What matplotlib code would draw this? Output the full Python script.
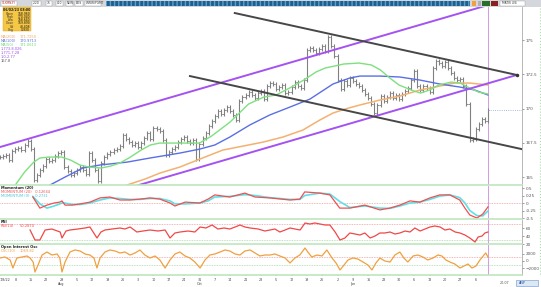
import matplotlib.pyplot as plt
import numpy as np
from matplotlib.patches import Rectangle
from matplotlib.lines import Line2D

W, H = 541, 287

# closing prices, one per bar
closes = [166.46, 166.53, 166.60, 166.24, 166.90, 167.05, 167.12, 166.97, 167.34, 167.63,
          167.05, 164.78, 165.14, 165.51, 165.80, 166.31, 166.17, 166.24, 166.53, 166.75,
          166.82, 165.73, 165.44, 165.14, 165.29, 165.51, 165.73, 165.51, 165.22, 166.75,
          166.24, 165.51, 164.71, 166.02, 166.46, 166.68, 166.82, 166.97, 167.05, 167.26,
          168.07, 167.77, 167.55, 167.34, 167.48, 167.19, 167.48, 167.85, 168.21, 167.77,
          168.58, 168.50, 168.36, 167.70, 166.60, 166.82, 167.05, 167.19, 167.55, 167.77,
          167.92, 167.63, 167.48, 167.70, 166.31, 167.41, 167.85, 168.21, 168.72, 169.09,
          169.45, 169.82, 169.60, 169.89, 170.11, 169.82, 169.53, 169.16, 170.55, 170.84,
          170.99, 171.20, 170.99, 170.77, 171.13, 171.28, 170.69, 171.64, 171.86, 171.79,
          171.42, 171.57, 171.72, 171.13, 171.20, 171.57, 171.93, 171.64, 171.50, 172.08,
          174.27, 174.42, 174.27, 174.05, 174.34, 174.56, 174.20, 175.22, 174.56, 173.83,
          172.08, 171.42, 172.01, 171.72, 172.23, 172.01, 171.79, 171.64, 171.35, 171.06,
          170.77, 170.33, 169.67, 170.26, 170.91, 170.55, 170.84, 171.13, 170.77, 170.99,
          170.69, 171.06, 171.28, 171.50, 172.08, 172.74, 171.64, 171.35, 171.64, 171.50,
          171.20, 172.96, 173.47, 173.32, 173.10, 173.39, 172.96, 172.59, 172.23, 172.08,
          172.16, 171.64, 170.33, 167.70, 167.77, 168.50, 168.87, 169.23, 169.09, 169.89]

# moving averages (bar position, value)
ma50_x = [5, 8, 11, 13, 16, 20, 23, 26, 29, 33, 36, 39, 42, 46, 49, 52, 56, 60, 65, 69,
          75, 81, 86, 90, 95, 99, 103, 106, 109, 112, 117, 121, 124, 127, 130, 134, 137,
          140, 143, 147, 150, 153, 156, 159]
ma50 = [164.42, 165.36, 166.09, 166.39, 166.46, 166.46, 166.24, 165.88, 165.73, 165.66,
        165.80, 166.02, 166.39, 166.97, 167.34, 167.48, 167.48, 167.48, 167.48, 168.00,
        169.02, 170.33, 170.84, 170.99, 171.57, 172.08, 172.67, 172.96, 173.10, 173.25,
        173.32, 173.18, 172.81, 172.23, 171.72, 171.35, 171.13, 171.35, 171.72, 171.93,
        171.86, 171.50, 171.20, 171.06]
ma100_x = [16.3, 21.2, 27.0, 32.6, 41.4, 48.9, 58.6, 65.1, 70.0, 74.9, 81.4, 87.9, 94.5,
           101.0, 108.5, 114.0, 117.3, 123.8, 130.3, 136.8, 143.3, 149.8, 154.7, 159]
ma100 = [164.42, 165.00, 165.66, 165.88, 166.09, 166.39, 166.75, 167.04, 167.34, 167.92,
         168.80, 169.53, 170.11, 170.69, 171.79, 172.23, 172.37, 172.37, 172.30, 172.08,
         171.79, 171.57, 171.35, 170.99]
ma200_x = [41.4, 47.2, 52.1, 58.6, 65.1, 72.6, 79.2, 85.7, 92.2, 98.7, 104.2, 108.5,
           112.4, 117.3, 123.8, 130.3, 136.8, 143.3, 148.2, 153.1, 159]
ma200 = [164.42, 164.85, 165.29, 165.73, 166.31, 166.97, 167.26, 167.55, 167.92, 168.43,
         169.16, 169.67, 169.96, 170.26, 170.62, 170.91, 171.35, 171.64, 171.86, 171.86,
         171.72]

# trend lines, two anchors each (bar, price)
chan_up_x = [0, 159]
chan_up = [167.19, 177.55]
chan_dn_x = [45, 168.4]
chan_dn = [164.40, 172.45]
blk_up_x = [76.5, 168.4]
blk_up = [176.97, 172.45]
blk_dn_x = [61.9, 170.0]
blk_dn = [172.37, 167.04]

price_ticks = [165, 167.5, 170, 172.5, 175]

# momentum panel
mom_x = [10.7, 13.0, 15.3, 17.6, 19.5, 20.2, 21.2, 23.5, 26.1, 29.3, 32.6, 35.8, 39.1,
         42.3, 45.6, 48.9, 52.1, 55.4, 57.0, 60.3, 65.1, 67.8, 70.0, 74.9, 79.8, 83.1,
         87.9, 94.5, 97.7, 99.3, 104.2, 107.5, 110.7, 114.0, 118.9, 123.8, 127.0, 130.3,
         133.6, 136.8, 140.1, 143.3, 146.6, 149.8, 151.5, 153.1, 155.4, 157.3, 159]
mom = [0.20, -0.17, -0.07, 0.0, 0.03, 0.07, -0.07, -0.07, -0.03, 0.03, 0.17, 0.20, 0.10,
       0.10, 0.13, 0.17, 0.13, 0.0, -0.10, 0.03, 0.0, 0.13, 0.27, 0.20, 0.33, 0.20, 0.17,
       0.10, 0.13, 0.37, 0.33, 0.27, -0.17, -0.17, -0.07, -0.23, -0.17, -0.07, 0.07, 0.03,
       0.17, 0.27, 0.27, 0.10, -0.17, -0.40, -0.50, -0.37, -0.13]
mom_sig = [0.22, -0.03, -0.17, -0.10, -0.03, 0.0, 0.0, -0.05, -0.05, 0.0, 0.10, 0.17, 0.15,
           0.12, 0.12, 0.15, 0.15, 0.07, -0.03, -0.03, 0.0, 0.07, 0.20, 0.22, 0.28, 0.25,
           0.18, 0.12, 0.12, 0.25, 0.33, 0.30, 0.05, -0.15, -0.10, -0.17, -0.18, -0.10, 0.0,
           0.03, 0.12, 0.23, 0.27, 0.18, 0.0, -0.25, -0.42, -0.43, -0.27]
mom_ticks = [-0.5, -0.25, 0, 0.25, 0.5]
mom_tick_labels = ['-0.5', '-0.25', '0', '0.25', '0.5']

# RSI panel
rsi_x = [9.8, 11.4, 13.0, 14.7, 16.9, 19.6, 20.2, 21.5, 22.8, 25.4,
         27.7, 29.3, 31.6, 32.9, 34.2, 36.5, 39.1, 40.7, 42.4, 44.6,
         46.6, 48.9, 51.5, 53.8, 55.4, 57.0, 58.7, 61.3, 63.5, 65.2,
         67.1, 69.1, 71.0, 73.0, 74.9, 76.6, 78.2, 79.8, 81.5, 84.1,
         86.3, 88.0, 89.6, 91.2, 92.9, 94.5, 96.1, 97.8, 99.4, 101.0,
         102.6, 104.3, 105.9, 107.5, 109.2, 110.8, 112.4, 114.0, 115.7, 117.3,
         118.9, 120.6, 122.2, 123.8, 125.4, 127.1, 128.7, 130.3, 132.0, 133.6,
         135.2, 136.9, 138.5, 140.1, 141.7, 143.4, 145.0, 146.6, 148.3, 149.9,
         151.5, 153.1, 154.8, 155.8, 157.1, 158.0, 159.0]
rsi = [55, 30, 30, 55, 57.5, 50, 35, 52.5, 55, 57.5,
       60, 62.5, 35, 50, 55, 57.5, 60, 57.5, 62.5, 50,
       52.5, 55, 52.5, 55, 35, 47.5, 50, 52.5, 50, 62.5,
       60, 67.5, 57.5, 60, 57.5, 62.5, 67.5, 62.5, 60, 57.5,
       52.5, 55, 57.5, 50, 55, 60, 57.5, 55, 72.5, 70,
       72.5, 70, 67.5, 67.5, 50, 30, 35, 47.5, 45, 42.5,
       47.5, 35, 40, 47.5, 47.5, 50, 45, 47.5, 52.5, 50,
       60, 52.5, 57.5, 62.5, 65, 62.5, 55, 57.5, 50, 47.5,
       42.5, 35, 25, 37.5, 40, 47.5, 50]
rsi_ticks = [20, 40, 60]

# oscillator panel
osc_x = [0, 1.6, 3.3, 4.2, 5.5, 7.2, 8.8, 9.8, 10.8, 11.4,
         12.4, 13.7, 15.3, 16.9, 18.6, 19.5, 20.2, 21.2, 22.8, 24.4,
         26.1, 27.7, 29.3, 30.6, 31.6, 32.6, 34.2, 35.8, 37.5, 39.1,
         40.7, 42.4, 44.0, 45.6, 47.2, 48.9, 50.5, 52.1, 53.8, 55.4,
         57.0, 58.6, 60.3, 61.9, 63.5, 65.2, 66.8, 68.4, 70.0, 71.7,
         73.3, 74.9, 76.6, 78.2, 79.8, 81.5, 83.1, 84.7, 86.3, 88.0,
         89.6, 91.2, 92.9, 94.5, 96.1, 97.7, 99.4, 100.3, 101.6, 103.3,
         104.9, 106.5, 108.2, 109.5, 110.8, 112.1, 113.4, 115.0, 116.6, 118.3,
         119.9, 121.2, 122.5, 123.8, 125.4, 127.1, 128.7, 130.3, 131.6, 132.9,
         134.6, 136.2, 137.8, 139.4, 141.1, 142.7, 144.0, 145.3, 146.6, 148.2,
         149.9, 151.2, 152.5, 153.8, 155.1, 156.4, 157.7, 158.3, 159.0]
osc = [800, 1070, 270, -1870, 800, 1070, 1340, 800, -270, -2940,
       -1070, 1600, 2400, 1600, 1870, 800, -2940, -270, 2400, 2940,
       2670, 1870, 1600, 800, -1870, 800, 2400, 2940, 2670, 2140,
       2400, 1600, 2140, 2940, 1600, 800, 1340, 270, -1870, 270,
       1870, 2400, 1340, 800, -270, -1870, 270, 1600, 1870, 2400,
       2940, 2670, 1870, 1600, 2670, 2940, 2140, 1340, 1600, 1600,
       1870, 1340, 800, -530, 800, 1600, 3470, 2400, 1070, 1600,
       1340, 2940, 800, -530, -2400, -1070, 270, 800, 530, -270,
       -1070, -2400, -530, 800, 0, -270, 1600, 2400, 800, -270,
       1340, 1600, 1070, 270, 800, 1600, 1340, 270, -270, -800,
       -1870, -1340, -800, -1870, -1340, 270, 1600, 2140, 1070]
osc_ticks = [-2000, 0, 2000]

# date axis
xtick_bars = list(range(0, 160, 5))
xtick_labels = ['1/8/22', '8', '15', '22', '29\nAug', '5', '12', '19', '26', '3', '10',
                '17', '24', '31\nOct', '7', '14', '21', '28', '5', '12', '19', '26', '2',
                '9\nJan', '16', '23', '30', '6', '13', '20', '27', '6']

# legend block values
info_rows = [('Open', '168.960'), ('High', '170.040'), ('Low', '168.640'),
             ('Close', '169.890'), ('Vol', '48,408'), ('Chg', '0.930')]
ma_legend = [('MA(200)', '171.7250', '#f5a860'), ('MA(100)', '170.9713', '#5a6ee6'),
             ('MA(50)', '171.0613', '#6fdc6f')]
line_legend = [('1.773-8.026', '#a050f0'), ('1.771-7.28', '#a050f0'),
               ('1.0-2.77', '#a050f0'), ('167.8', '#555555')]

XMAX = 170.1
WICK = 0.12  # visual padding of each price bar
fig = plt.figure(figsize=(W / 100, H / 100), dpi=100)
fig.patch.set_facecolor('white')


def px_axes(x0, y0, x1, y1):
    return fig.add_axes([x0 / W, 1 - y1 / H, (x1 - x0) / W, (y1 - y0) / H])


def ftext(x, y, s, **kw):
    kw.setdefault('va', 'center')
    kw.setdefault('fontsize', 2.6)
    fig.text(x / W, 1 - y / H, s, **kw)


def style(a):
    a.set_xlim(0, XMAX)
    a.set_facecolor('white')
    for s in ['top', 'left']:
        a.spines[s].set_visible(False)
    a.spines['right'].set_color('#9a9a9a')
    a.spines['right'].set_linewidth(0.5)
    a.spines['bottom'].set_color('#bfe6bf')
    a.spines['bottom'].set_linewidth(1.2)
    a.yaxis.tick_right()
    a.tick_params(axis='y', labelsize=3, colors='#555555', length=1.5, width=0.4, pad=1)
    a.tick_params(axis='x', length=0)
    a.set_xticks([])
    a.axvline(159, color='#d49ae8', lw=0.7)


ax = px_axes(0, 7, 522, 185)
ax2 = px_axes(0, 186, 522, 219)
ax3 = px_axes(0, 220, 522, 244)
ax4 = px_axes(0, 245, 522, 275)
for a in (ax, ax2, ax3, ax4):
    style(a)

# main price panel
ax.set_ylim(164.42, 177.41)
ax.set_yticks(price_ticks)
ax.set_yticklabels(['165', '167.5', '170', '172.5', '175'])
xb = np.arange(len(closes))
opens = [closes[0]] + closes[:-1]
lo = np.minimum(opens, closes) - WICK
hi = np.maximum(opens, closes) + WICK
ax.vlines(xb, lo, hi, color='#808080', lw=0.8)
ax.hlines(opens, xb - 0.5, xb, color='#808080', lw=0.6)
ax.hlines(closes, xb, xb + 0.5, color='#808080', lw=0.6)

ax.plot(ma200_x, ma200, color='#f5b070', lw=1.1)
ax.plot(ma100_x, ma100, color='#5a6ee6', lw=1.0)
ax.plot(ma50_x, ma50, color='#7ee07e', lw=1.0)

ax.plot(chan_up_x, chan_up, color='#a452f2', lw=1.4)
ax.plot(chan_dn_x, chan_dn, color='#a452f2', lw=1.4)
ax.plot(blk_up_x, blk_up, color='#474747', lw=1.4)
ax.plot(blk_dn_x, blk_dn, color='#474747', lw=1.4)
ax.plot([blk_up_x[1]], [blk_up[1]], 'o', ms=1.5, color='#333333')
ax.hlines(closes[-1], 159, XMAX, color='#8fa0d0', lw=0.6, linestyles=':')

# momentum
ax2.set_ylim(-0.533, 0.567)
ax2.set_yticks(mom_ticks)
ax2.set_yticklabels(mom_tick_labels)
ax2.axhline(0, color='#f0a0a0', lw=0.6, ls=(0, (1, 1)))
ax2.plot(mom_x, mom_sig, color='#5ee0e8', lw=1.2)
ax2.plot(mom_x, mom, color='#f05050', lw=0.9)

# rsi
ax3.set_ylim(20, 80)
ax3.set_yticks(rsi_ticks)
ax3.axhline(70, color='#f0a0a0', lw=0.6, ls=(0, (1, 1)))
ax3.axhline(30, color='#a8dca8', lw=0.6, ls=(0, (1, 1)))
ax3.plot(rsi_x, rsi, color='#f04848', lw=0.9)

# oscillator
ax4.set_ylim(-3738, 4272)
ax4.set_yticks(osc_ticks)
ax4.axhline(1000, color='#f0a0a0', lw=0.6, ls=(0, (1, 1)))
ax4.axhline(-1000, color='#a8dca8', lw=0.6, ls=(0, (1, 1)))
ax4.plot(osc_x, osc, color='#f0a040', lw=0.9)
ax4.set_xticks(xtick_bars)
ax4.set_xticklabels(xtick_labels, fontsize=2.4, color='#444444', va='top')
ax4.get_xticklabels()[0].set_ha('left')
ax4.tick_params(axis='x', length=1, width=0.3, pad=1)

# panel captions
ftext(1, 188, 'Momentum (20)', color='#222222', fontweight='bold')
ftext(1, 192, 'MOMENTUM (20)', color='#f05050')
ftext(35, 192, '-0.12644', color='#f05050')
ftext(1, 196, 'MOMENTUM (9)', color='#40c8d8')
ftext(35, 196, '-0.2731', color='#40c8d8')
ftext(1, 222, 'RSI', color='#222222', fontweight='bold')
ftext(1, 226, 'RSI(14)', color='#f04848')
ftext(20, 226, '50.2874', color='#f04848')
ftext(1, 247, 'Open Interest Osc', color='#222222', fontweight='bold')
ftext(1, 251, 'OSC(10)', color='#f0a040')
ftext(20, 251, '1069.82', color='#f0a040')

# top toolbar
fig.add_artist(Rectangle((0, 1 - 7 / H), 1, 7 / H, transform=fig.transFigure,
                         facecolor='#d4d8dc', edgecolor='none'))
for bx, bw, s, c in [(1, 16, 'SLXMN3Y', '#c03030'), (32, 9, '2/20', '#333333'),
                     (46, 6, '75', '#333333'), (56, 7, 'L10', '#333333'),
                     (66, 7, 'NEW', '#333333'), (75, 8, 'BDS', '#333333'),
                     (85, 16, 'WWW/PGMT', '#333333')]:
    fig.add_artist(Rectangle((bx / W, 1 - 6 / H), bw / W, 5 / H, transform=fig.transFigure,
                             facecolor='white', edgecolor='#a0a0a0', lw=0.3))
    ftext(bx + 1, 3.5, s, color=c, fontsize=2.2)
fig.add_artist(Rectangle((106 / W, 1 - 6 / H), 364 / W, 5 / H, transform=fig.transFigure,
                         facecolor='#1f5f8f', edgecolor='#5aa0cc', lw=0, hatch='||||'))
for bx, bw, c in [(472, 4, '#f0a040'), (478, 3, '#b0b0b0'), (482, 8, '#2a6e2a'),
                  (491, 7, '#8a2020')]:
    fig.add_artist(Rectangle((bx / W, 1 - 6 / H), bw / W, 5 / H, transform=fig.transFigure,
                             facecolor=c, edgecolor='none'))
fig.add_artist(Rectangle((500 / W, 1 - 6 / H), 25 / W, 5 / H, transform=fig.transFigure,
                         facecolor='white', edgecolor='#a0a0a0', lw=0.3))
ftext(502, 3.5, 'MATIS 4/4', color='#333333', fontsize=2.2)

# legend box
fig.add_artist(Rectangle((3 / W, 1 - 31 / H), 28 / W, 24 / H, transform=fig.transFigure,
                         facecolor='#f6c744', edgecolor='#d8a020', lw=0.3))
ftext(17, 10, '06/02/23 08:00', color='#222222', fontsize=2.3, ha='center',
      fontweight='bold')
for k, (lab, val) in enumerate(info_rows):
    ftext(14, 13.6 + k * 3.3, lab, color='#333333', fontsize=2.2, ha='right')
    ftext(30, 13.6 + k * 3.3, val, color='#111111', fontsize=2.2, ha='right')
for k, (lab, val, c) in enumerate(ma_legend):
    ftext(0.5, 37 + k * 4, lab, color=c)
    ftext(20, 37 + k * 4, val, color=c)
for k, (lab, c) in enumerate(line_legend):
    ftext(0.5, 49 + k * 4, lab, color=c)

# bottom strip
ftext(500, 283, '20.07', color='#555555', fontsize=2.4)
fig.add_artist(Rectangle((516 / W, 1 - 286 / H), 22 / W, 6 / H, transform=fig.transFigure,
                         facecolor='#dce8f4', edgecolor='#6a90c0', lw=0.4))
ftext(519, 283, 'ANP', color='#2050a0', fontsize=2.4)

# right frame
fig.add_artist(Line2D([539.5 / W] * 2, [1 - 8 / H, 1 - 276 / H], transform=fig.transFigure,
                      color='#a8dca8', lw=0.8, ls=':'))

fig.savefig('out.png', dpi=100)
